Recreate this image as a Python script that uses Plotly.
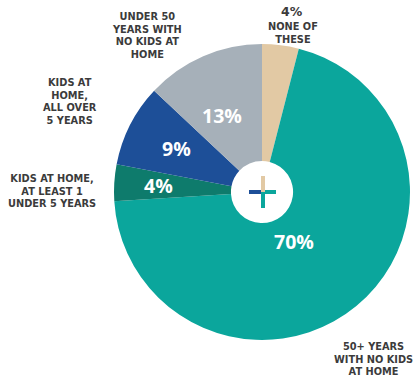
import math
import plotly.graph_objects as go

W, H = 414, 376

labels = ["None of these", "50+ years with no kids at home",
          "Kids at home, at least 1 under 5 years",
          "Kids at home, all over 5 years",
          "Under 50 years with no kids at home"]
values = [4, 70, 4, 9, 13]
colors = ["#e2c9a4", "#0ba69c", "#0e7b6c", "#1d4f98", "#a6b0b9"]
pct_text = ["4%", "70%", "4%", "9%", "13%"]

# pie geometry (pixels)
CX, CY, R = 262, 192, 148

fig = go.Figure()
fig.add_trace(go.Pie(
    labels=labels, values=values, sort=False, direction="clockwise",
    rotation=0, hole=0.21,
    marker=dict(colors=colors, line=dict(width=0)),
    textinfo="none", hoverinfo="label+percent", showlegend=False,
    domain=dict(x=[(CX - R) / W, (CX + R) / W],
                y=[(H - CY - R) / H, (H - CY + R) / H]),
))

def px(x):
    return x / W

def py(y):
    return 1 - y / H

annotations = []
# inside percentage labels, placed at each slice's mid-angle
total = sum(values)
radial = [None, 85, 104, 96, 100]
start = 0.0
for v, t, rr in zip(values, pct_text, radial):
    mid = (start + v / 2) / total * 2 * math.pi
    start += v
    if rr is None:
        continue
    x = CX + rr * math.sin(mid)
    y = CY - rr * math.cos(mid)
    annotations.append(dict(x=px(x), y=py(y), xref="paper", yref="paper",
                            text=t, showarrow=False,
                            font=dict(family="Open Sans", size=19.5, color="white", weight=700)))

lab_font = dict(family="DejaVu Sans", size=9.8, color="#3b3b3b", weight=700)
outside = [
    ("4%", 292, 12, dict(family="DejaVu Sans", size=12.5, color="#3b3b3b", weight=700)),
    ("NONE OF<br>THESE", 293, 33, lab_font),
    ("UNDER 50<br>YEARS WITH<br>NO KIDS AT<br>HOME", 147, 35, lab_font),
    ("KIDS AT<br>HOME,<br>ALL OVER<br>5 YEARS", 70, 102, lab_font),
    ("KIDS AT HOME,<br>AT LEAST 1<br>UNDER 5 YEARS", 52, 191, lab_font),
    ("50+ YEARS<br>WITH NO KIDS<br>AT HOME", 373, 359, lab_font),
]
for t, x, y, f in outside:
    annotations.append(dict(x=px(x), y=py(y), xref="paper", yref="paper",
                            text=t, showarrow=False, align="center",
                            xanchor="center", yanchor="middle", font=f))

# center plus icon
shapes = [
    dict(type="line", xref="paper", yref="paper", x0=px(249), x1=px(262), y0=py(192), y1=py(192),
         line=dict(color="#1d4f98", width=4)),
    dict(type="line", xref="paper", yref="paper", x0=px(262), x1=px(276), y0=py(192), y1=py(192),
         line=dict(color="#0ba69c", width=4)),
    dict(type="line", xref="paper", yref="paper", x0=px(263), x1=px(263), y0=py(176), y1=py(192),
         line=dict(color="#e2c9a4", width=4)),
    dict(type="line", xref="paper", yref="paper", x0=px(263), x1=px(263), y0=py(192), y1=py(208),
         line=dict(color="#0ba69c", width=4)),
]

fig.update_layout(width=W, height=H, margin=dict(l=0, r=0, t=0, b=0),
                  paper_bgcolor="white", plot_bgcolor="white",
                  annotations=annotations, shapes=shapes)
fig.write_html("out.html")
